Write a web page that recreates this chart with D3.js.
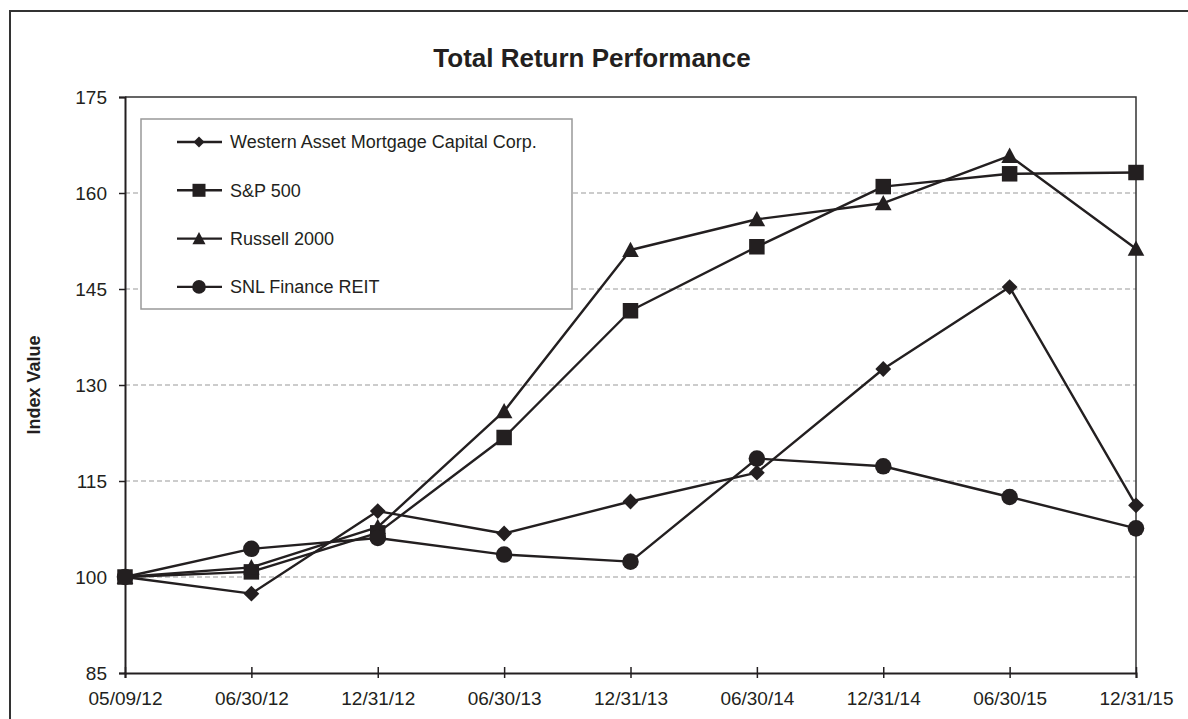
<!DOCTYPE html>
<html>
<head>
<meta charset="utf-8">
<script src="https://cdn.jsdelivr.net/npm/d3@7"></script>
<style>
    body { margin: 0; background: #fff; }
    text { font-family: Arial, "Liberation Sans", sans-serif; fill: #231f20; }
</style>
</head>
<body>
<div id="chart"></div>
<script>
// data
const dates = ["05/09/12", "06/30/12", "12/31/12", "06/30/13", "12/31/13", "06/30/14", "12/31/14", "06/30/15", "12/31/15"];
const westernAsset = [100, 97.4, 110.3, 106.8, 111.8, 116.3, 132.5, 145.3, 111.2];
const sp500 = [100, 100.8, 106.9, 121.8, 141.6, 151.6, 161.0, 163.0, 163.2];
const russell2000 = [100, 101.5, 107.8, 125.9, 151.1, 155.9, 158.4, 165.8, 151.3];
const snlFinanceReit = [100, 104.4, 106.1, 103.5, 102.4, 118.5, 117.3, 112.5, 107.6];
const seriesNames = ["Western Asset Mortgage Capital Corp.", "S&P 500", "Russell 2000", "SNL Finance REIT"];
const yTicks = [85, 100, 115, 130, 145, 160, 175];

class LineChart {
    constructor(_config, _data) {
        this.config = _config;
        this.data = _data;
        this.initVis();
    }

    initVis() {
        const vis = this;

        vis.config.width = 1188;
        vis.config.height = 719;
        vis.config.plot = {left: 125, right: 1136, top: 97, bottom: 673};
        vis.config.ink = "#231f20";

        vis.svg = d3.select(vis.config.parentElement)
            .append("svg")
            .attr("width", vis.config.width)
            .attr("height", vis.config.height);

        // outer frame (only top/left visible in the picture)
        vis.svg.append("rect")
            .attr("x", 10)
            .attr("y", 11)
            .attr("width", 1300)
            .attr("height", 900)
            .style("fill", "none")
            .style("stroke", "#333")
            .style("stroke-width", 2);

        vis.xScale = d3.scalePoint()
            .domain(dates)
            .range([vis.config.plot.left, vis.config.plot.right]);

        vis.yScale = d3.scaleLinear()
            .domain([85, 175])
            .range([vis.config.plot.bottom, vis.config.plot.top]);

        // custom triangle, a bit wider than d3's equilateral one
        vis.triangle = {
            draw(context, size) {
                const r = Math.sqrt(size) / 2;
                context.moveTo(0, -r * 1.05);
                context.lineTo(r * 1.05, r * 0.9);
                context.lineTo(-r * 1.05, r * 0.9);
                context.closePath();
            }
        };

        vis.markers = [
            {type: d3.symbolSquare, size: 125, rotate: 45, legendSize: 60},
            {type: d3.symbolSquare, size: 240, rotate: 0, legendSize: 169},
            {type: vis.triangle, size: 250, rotate: 0, legendSize: 155},
            {type: d3.symbolCircle, size: 215, rotate: 0, legendSize: 145}
        ];

        vis.updateVis();
    }

    updateVis() {
        const vis = this;
        const p = vis.config.plot;

        // gridlines
        vis.svg.append("g")
            .selectAll("line")
            .data(yTicks.filter(d => d > 85 && d < 175))
            .join("line")
            .attr("x1", p.left)
            .attr("x2", p.right)
            .attr("y1", d => vis.yScale(d))
            .attr("y2", d => vis.yScale(d))
            .style("stroke", "#9a9a9a")
            .style("stroke-width", 1.2)
            .style("stroke-dasharray", "5,3");

        // top and right border of the plot
        vis.svg.append("path")
            .attr("d", `M${p.left},${p.top}H${p.right}V${p.bottom}`)
            .style("fill", "none")
            .style("stroke", "#333")
            .style("stroke-width", 1.5);

        // axes
        const yAxis = d3.axisLeft(vis.yScale)
            .tickValues(yTicks)
            .tickSize(6)
            .tickPadding(12);

        const yG = vis.svg.append("g")
            .attr("transform", `translate(${p.left},0)`)
            .call(yAxis);
        yG.selectAll("text").style("font-size", "19px").attr("fill", vis.config.ink);
        yG.selectAll("line").style("stroke", vis.config.ink).style("stroke-width", 1.5);
        yG.select(".domain").style("stroke", vis.config.ink).style("stroke-width", 2);

        const xAxis = d3.axisBottom(vis.xScale)
            .tickSize(5)
            .tickPadding(14);

        const xG = vis.svg.append("g")
            .attr("transform", `translate(0,${p.bottom})`)
            .call(xAxis);
        xG.selectAll("text").style("font-size", "19px").attr("fill", vis.config.ink);
        xG.selectAll("line")
            .attr("y1", -6)
            .attr("y2", 5)
            .style("stroke", vis.config.ink)
            .style("stroke-width", 1.5);
        xG.select(".domain").style("stroke", vis.config.ink).style("stroke-width", 2);

        // title and axis label
        vis.svg.append("text")
            .attr("x", 592)
            .attr("y", 67)
            .attr("text-anchor", "middle")
            .style("font-size", "26px")
            .style("font-weight", "bold")
            .text("Total Return Performance");

        vis.svg.append("text")
            .attr("transform", `translate(40,${(p.top + p.bottom) / 2}) rotate(-90)`)
            .attr("text-anchor", "middle")
            .style("font-size", "18px")
            .style("font-weight", "bold")
            .text("Index Value");

        // series
        const line = d3.line()
            .x((d, i) => vis.xScale(dates[i]))
            .y(d => vis.yScale(d));

        vis.data.forEach((values, s) => {
            const m = vis.markers[s];
            const g = vis.svg.append("g");

            g.append("path")
                .attr("d", line(values))
                .style("fill", "none")
                .style("stroke", vis.config.ink)
                .style("stroke-width", 2.4)
                .style("stroke-linejoin", "round");

            g.selectAll("path.marker")
                .data(values)
                .join("path")
                .attr("class", "marker")
                .attr("d", d3.symbol().type(m.type).size(m.size))
                .attr("transform", (d, i) => `translate(${vis.xScale(dates[i])},${vis.yScale(d)}) rotate(${m.rotate})`)
                .style("fill", vis.config.ink);
        });

        // legend
        const legend = vis.svg.append("g");
        legend.append("rect")
            .attr("x", 141)
            .attr("y", 119)
            .attr("width", 431)
            .attr("height", 190)
            .style("fill", "#fff")
            .style("stroke", "#999")
            .style("stroke-width", 1.5);

        const rows = legend.selectAll("g.row")
            .data(seriesNames)
            .join("g")
            .attr("class", "row")
            .attr("transform", (d, i) => `translate(0,${142 + i * 48.3})`);

        rows.append("line")
            .attr("x1", 177)
            .attr("x2", 222)
            .style("stroke", vis.config.ink)
            .style("stroke-width", 2.4);

        rows.append("path")
            .attr("d", (d, i) => d3.symbol().type(vis.markers[i].type).size(vis.markers[i].legendSize)())
            .attr("transform", (d, i) => `translate(199,0) rotate(${vis.markers[i].rotate})`)
            .style("fill", vis.config.ink);

        rows.append("text")
            .attr("x", 230)
            .attr("dy", "0.35em")
            .style("font-size", "18px")
            .text(d => d);
    }
}

const chart = new LineChart({parentElement: "#chart"}, [westernAsset, sp500, russell2000, snlFinanceReit]);
</script>
</body>
</html>
